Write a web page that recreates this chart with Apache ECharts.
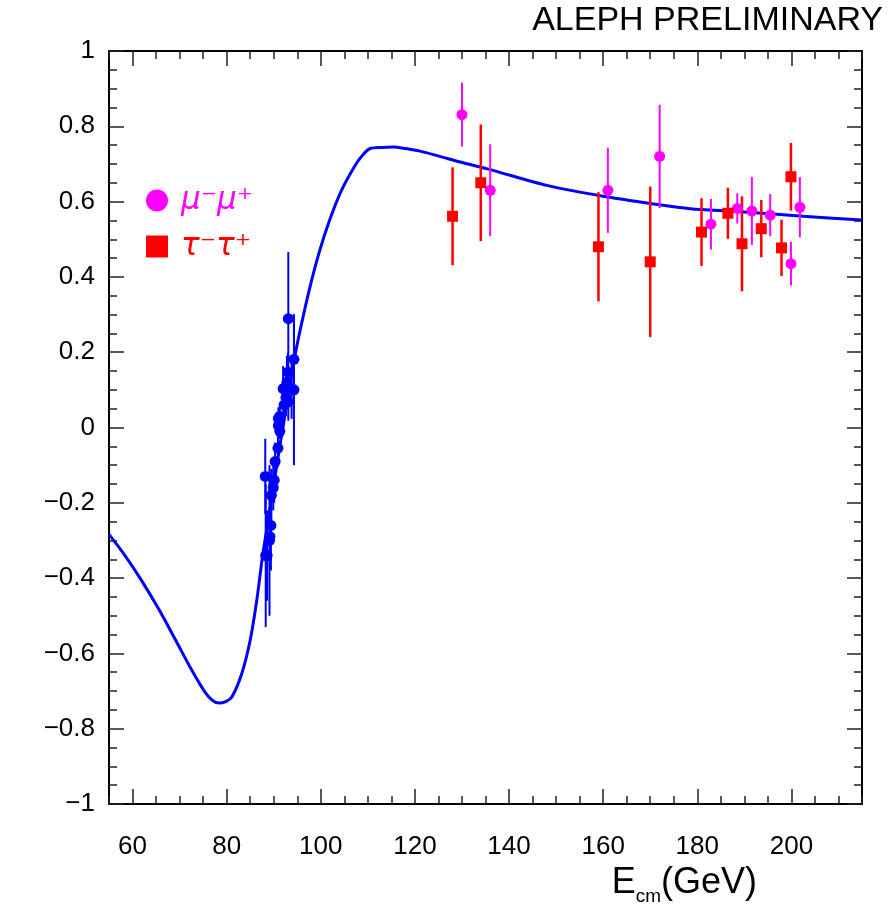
<!DOCTYPE html>
<html>
<head>
<meta charset="utf-8">
<script src="https://cdn.jsdelivr.net/npm/echarts@6/dist/echarts.min.js"></script>
<style>
  html, body { margin: 0; padding: 0; background: #fff; }
  #chart { width: 888px; height: 913px; }
</style>
</head>
<body>
<div id="chart"></div>
<script>
// theory curve (Ecm, A_FB)
const curveX = [55, 58.4, 61.9, 65.5, 69.0, 72.6, 75.4, 77.0, 78.4, 79.8, 81.1, 83.2, 85.0, 86.4, 87.6,
  88.5, 89.5, 90.5, 91.5, 92.5, 93.5, 94.5, 95.6, 97.7, 99.8, 102.0, 104.4, 107.3, 109.0, 110.5,
  113.0, 115.4, 118.0, 121.1, 125.3, 129.6, 136.0, 148.0, 161.0, 170.0, 178.5, 188.4, 202.5, 215];
const curveY = [-0.284, -0.340, -0.406, -0.481, -0.561, -0.645, -0.703, -0.725, -0.732, -0.728, -0.716, -0.654, -0.565, -0.459, -0.344,
  -0.272, -0.192, -0.112, -0.034, 0.042, 0.118, 0.19, 0.258, 0.373, 0.471, 0.555, 0.630, 0.696, 0.725, 0.741,
  0.744, 0.745, 0.741, 0.734, 0.720, 0.705, 0.685, 0.643, 0.612, 0.595, 0.581, 0.574, 0.561, 0.551];

// LEP1 points (blue)
const lep1X = [88.2, 88.3, 88.6, 89.1, 89.2, 89.4, 89.5, 89.9, 90.1, 90.3, 90.9, 91.0, 91.2, 91.3, 91.0, 91.3,
  92.0, 92.2, 92.6, 93.1, 93.0, 92.8, 93.1, 93.8, 94.3, 94.3];
const lep1Y = [-0.13, -0.34, -0.34, -0.30, -0.29, -0.26, -0.18, -0.16, -0.14, -0.09, -0.055, 0.005, 0.01, -0.01, 0.024, 0.03,
  0.103, 0.06, 0.08, 0.068, 0.147, 0.12, 0.289, 0.103, 0.181, 0.10];
const lep1Err = [0.10, 0.19, 0.12, 0.20, 0.08, 0.12, 0.07, 0.06, 0.06, 0.05, 0.05, 0.03, 0.02, 0.02, 0.03, 0.025,
  0.06, 0.05, 0.05, 0.05, 0.05, 0.07, 0.177, 0.08, 0.12, 0.20];

// LEP2 mu-mu (magenta)
const muX = [130.0, 136.0, 161.0, 172.0, 182.9, 188.5, 191.6, 195.5, 199.9, 201.8];
const muY = [0.831, 0.630, 0.630, 0.720, 0.540, 0.582, 0.575, 0.564, 0.435, 0.585];
const muErr = [0.085, 0.122, 0.113, 0.137, 0.067, 0.04, 0.09, 0.056, 0.058, 0.08];

// LEP2 tau-tau (red)
const tauX = [128.0, 134.0, 159.0, 170.0, 180.9, 186.5, 189.5, 193.6, 197.9, 199.9];
const tauY = [0.561, 0.650, 0.480, 0.440, 0.519, 0.569, 0.488, 0.528, 0.477, 0.666];
const tauErr = [0.13, 0.155, 0.145, 0.20, 0.09, 0.068, 0.126, 0.076, 0.075, 0.09];

const xTickLabels = [60, 80, 100, 120, 140, 160, 180, 200];

const muName = 'μ⁻μ⁺';
const tauName = 'τ⁻τ⁺';
const FONT = 'Liberation Sans';

const zip3 = (a, b, c) => a.map((v, i) => [v, b[i], c[i]]);
const zip2 = (a, b) => a.map((v, i) => [v, b[i]]);

function errBars(color, width) {
  return function (params, api) {
    const x = api.value(0), y = api.value(1), e = api.value(2);
    const p1 = api.coord([x, y - e]);
    const p2 = api.coord([x, y + e]);
    return {
      type: 'line',
      shape: { x1: p1[0], y1: p1[1], x2: p2[0], y2: p2[1] },
      style: { stroke: color, lineWidth: width }
    };
  };
}

function xAx(pos, major, labels) {
  return {
    type: 'value', min: 55, max: 215, position: pos,
    interval: major ? undefined : 5,
    axisLine: { show: !major, onZero: false, lineStyle: { color: '#000', width: 2 } },
    axisTick: major
      ? { inside: true, length: 15, customValues: xTickLabels, lineStyle: { color: '#222', width: 1.5 } }
      : { inside: true, length: 8, lineStyle: { color: '#222', width: 1.5 } },
    axisLabel: labels
      ? { formatter: v => xTickLabels.indexOf(v) >= 0 ? String(v) : '', margin: 30, fontSize: 26, color: '#000', fontFamily: FONT }
      : { show: false },
    splitLine: { show: false }
  };
}

function yAx(pos, labels) {
  return {
    type: 'value', min: -1, max: 1, interval: 0.2, position: pos,
    axisLine: { show: true, onZero: false, lineStyle: { color: '#000', width: 2 } },
    axisTick: { inside: true, length: 15, lineStyle: { color: '#222', width: 1.5 } },
    minorTick: { show: true, splitNumber: 4, length: 8, lineStyle: { color: '#222', width: 1.5 } },
    axisLabel: labels
      ? {
          margin: 14, fontSize: 26, color: '#000', fontFamily: FONT,
          formatter: v => { const r = +v.toFixed(1); return r < 0 ? '−' + Math.abs(r) : String(r); }
        }
      : { show: false },
    splitLine: { show: false }, minorSplitLine: { show: false }
  };
}

const chart = echarts.init(document.getElementById('chart'));
chart.setOption({
  animation: false,
  backgroundColor: '#fff',
  title: [
    {
      text: 'ALEPH PRELIMINARY', right: 5, top: 4, padding: 0,
      textStyle: { fontSize: 34, fontWeight: 'normal', color: '#000', fontFamily: FONT }
    },
    {
      text: '{e|E}{s|cm}{e|(GeV)}', right: 131, top: 860, padding: 0,
      textStyle: {
        fontWeight: 'normal',
        rich: {
          e: { fontSize: 36, lineHeight: 46, fontWeight: 'normal', color: '#000', fontFamily: FONT },
          s: { fontSize: 19, lineHeight: 18, fontWeight: 'normal', verticalAlign: 'bottom', color: '#000', fontFamily: FONT }
        }
      }
    }
  ],
  legend: {
    data: [muName, tauName], orient: 'vertical', left: 141, top: 180,
    itemWidth: 22, itemHeight: 22, itemGap: 15, selectedMode: false,
    formatter: n => n === muName ? '{m|' + n + '}' : '{t|' + n + '}',
    textStyle: {
      rich: {
        m: { color: '#ff00ff', fontSize: 31, fontStyle: 'italic', fontFamily: 'DejaVu Sans', padding: [0, 0, 0, 8] },
        t: { color: '#ff0000', fontSize: 31, fontStyle: 'italic', fontFamily: 'DejaVu Sans', padding: [0, 0, 0, 8] }
      }
    }
  },
  grid: { left: 109, top: 51, width: 753, height: 753, containLabel: false },
  xAxis: [xAx('bottom', false, true), xAx('bottom', true, false), xAx('top', false, false), xAx('top', true, false)],
  yAxis: [yAx('left', true), yAx('right', false)],
  series: [
    {
      name: 'lep1err', type: 'custom', renderItem: errBars('#0000ff', 2),
      data: zip3(lep1X, lep1Y, lep1Err), z: 2
    },
    {
      name: 'lep1', type: 'scatter', symbol: 'circle', symbolSize: 11,
      itemStyle: { color: '#0000ff', opacity: 1 }, data: zip2(lep1X, lep1Y), z: 3
    },
    {
      name: 'theory', type: 'line', data: zip2(curveX, curveY), smooth: 0.3,
      showSymbol: false, lineStyle: { color: '#0000ff', width: 3 }, z: 4
    },
    {
      name: 'muerr', type: 'custom', renderItem: errBars('#ff00ff', 2),
      data: zip3(muX, muY, muErr), z: 5
    },
    {
      name: 'tauerr', type: 'custom', renderItem: errBars('#ff0000', 2.5),
      data: zip3(tauX, tauY, tauErr), z: 5
    },
    {
      name: muName, type: 'scatter', symbol: 'circle', symbolSize: 11,
      itemStyle: { color: '#ff00ff', opacity: 1 }, data: zip2(muX, muY), z: 6
    },
    {
      name: tauName, type: 'scatter', symbol: 'rect', symbolSize: 11,
      itemStyle: { color: '#ff0000', opacity: 1 }, data: zip2(tauX, tauY), z: 6
    }
  ]
});
</script>
</body>
</html>
